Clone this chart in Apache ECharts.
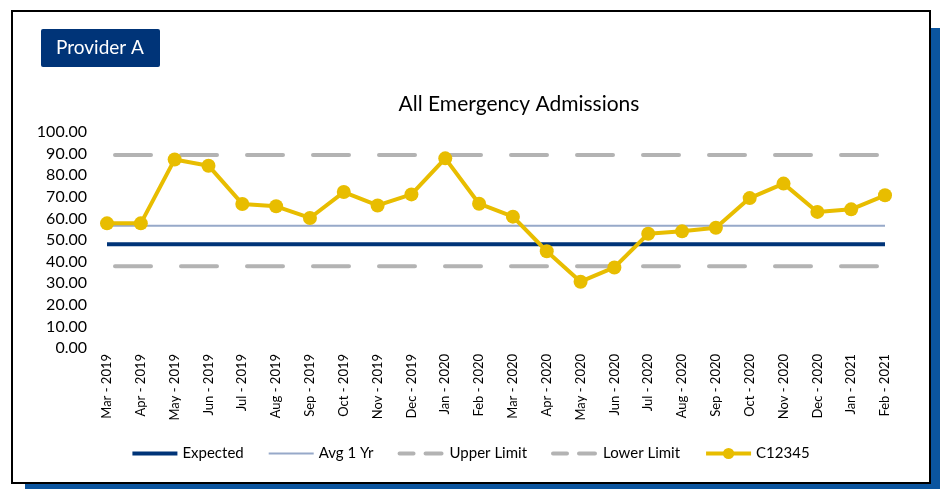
<!DOCTYPE html>
<html>
<head>
    <meta charset="utf-8" />
    <title>All Emergency Admissions</title>
    <script src="https://cdn.jsdelivr.net/npm/echarts@6/dist/echarts.min.js"></script>
    <style>
        html, body { margin: 0; padding: 0; background: #fff; }
    </style>
</head>
<body>
    <div id="main" style="width:940px;height:489px;"></div>
    <script type="text/javascript">
        // months on the x axis
        var months = ['Mar - 2019', 'Apr - 2019', 'May - 2019', 'Jun - 2019', 'Jul - 2019', 'Aug - 2019',
            'Sep - 2019', 'Oct - 2019', 'Nov - 2019', 'Dec - 2019', 'Jan - 2020', 'Feb - 2020',
            'Mar - 2020', 'Apr - 2020', 'May - 2020', 'Jun - 2020', 'Jul - 2020', 'Aug - 2020',
            'Sep - 2020', 'Oct - 2020', 'Nov - 2020', 'Dec - 2020', 'Jan - 2021', 'Feb - 2021'];
        var c12345 = [57.7, 57.7, 87.3, 84.4, 66.7, 65.6, 60.2, 72.2, 66.0, 71.1, 87.8, 66.8,
            60.8, 44.8, 30.7, 37.3, 52.9, 54.0, 55.7, 69.4, 76.1, 63.0, 64.2, 70.7];
        var expected = [48, 48, 48, 48, 48, 48, 48, 48, 48, 48, 48, 48,
            48, 48, 48, 48, 48, 48, 48, 48, 48, 48, 48, 48];
        var avg1Yr = [56.6, 56.6, 56.6, 56.6, 56.6, 56.6, 56.6, 56.6, 56.6, 56.6, 56.6, 56.6,
            56.6, 56.6, 56.6, 56.6, 56.6, 56.6, 56.6, 56.6, 56.6, 56.6, 56.6, 56.6];
        var upperLimit = [89.3, 89.3, 89.3, 89.3, 89.3, 89.3, 89.3, 89.3, 89.3, 89.3, 89.3, 89.3,
            89.3, 89.3, 89.3, 89.3, 89.3, 89.3, 89.3, 89.3, 89.3, 89.3, 89.3, 89.3];
        var lowerLimit = [37.8, 37.8, 37.8, 37.8, 37.8, 37.8, 37.8, 37.8, 37.8, 37.8, 37.8, 37.8,
            37.8, 37.8, 37.8, 37.8, 37.8, 37.8, 37.8, 37.8, 37.8, 37.8, 37.8, 37.8];

        var font = 'Lato, "Open Sans", sans-serif';
        var myChart = echarts.init(document.getElementById('main'));

        myChart.setOption({
            animation: false,
            textStyle: { fontFamily: font },
            title: {
                text: 'All Emergency Admissions',
                left: 514,
                textAlign: 'center',
                top: 89,
                textStyle: { fontFamily: font, fontSize: 21, fontWeight: 'normal', color: '#000' }
            },
            graphic: [
                // blue drop shadow behind the card
                { type: 'rect', z: -3, silent: true, shape: { x: 25, y: 28, width: 920, height: 470 }, style: { fill: '#0b559f' } },
                // white card
                { type: 'rect', z: -2, silent: true, shape: { x: 12, y: 11, width: 918, height: 472 }, style: { fill: '#fff', stroke: '#000', lineWidth: 2 } },
                // provider badge
                { type: 'rect', z: -1, silent: true, shape: { x: 41, y: 29, width: 119, height: 38, r: 2 }, style: { fill: '#003478' } },
                {
                    type: 'text', z: -1, silent: true, x: 100, y: 48,
                    style: { text: 'Provider A', fill: '#fff', font: '19px ' + font, align: 'center', verticalAlign: 'middle' }
                }
            ],
            legend: {
                top: 441,
                left: 'center',
                itemWidth: 45,
                itemHeight: 14,
                itemGap: 24,
                textStyle: { fontFamily: font, fontSize: 15, color: '#000' },
                data: [
                    { name: 'Expected', itemStyle: { opacity: 0 }, lineStyle: { width: 4 } },
                    { name: 'Avg 1 Yr', itemStyle: { opacity: 0 }, lineStyle: { width: 2 } },
                    { name: 'Upper Limit', itemStyle: { opacity: 0 }, lineStyle: { width: 4, type: [16, 12] } },
                    { name: 'Lower Limit', itemStyle: { opacity: 0 }, lineStyle: { width: 4, type: [16, 12] } },
                    { name: 'C12345', lineStyle: { width: 4 } }
                ]
            },
            grid: { left: 107, right: 55, top: 132, bottom: 141 },
            xAxis: {
                type: 'category',
                boundaryGap: false,
                data: months,
                axisLine: { show: false },
                axisTick: { show: false },
                axisLabel: { rotate: 90, interval: 0, margin: 6, fontSize: 13, color: '#000', fontFamily: font }
            },
            yAxis: {
                type: 'value',
                min: 0,
                max: 100,
                interval: 10,
                splitLine: { show: false },
                axisLine: { show: false },
                axisTick: { show: false },
                axisLabel: {
                    margin: 20, fontSize: 16, color: '#000', fontFamily: font,
                    formatter: function (v) { return v.toFixed(2); }
                }
            },
            series: [
                {
                    name: 'Expected', type: 'line', data: expected, symbol: 'none',
                    lineStyle: { color: '#003478', width: 4 }, itemStyle: { color: '#003478' }
                },
                {
                    name: 'Avg 1 Yr', type: 'line', data: avg1Yr, symbol: 'none',
                    lineStyle: { color: '#97a9c9', width: 2 }, itemStyle: { color: '#97a9c9' }
                },
                {
                    name: 'Upper Limit', type: 'line', data: upperLimit, symbol: 'none',
                    lineStyle: { color: '#b3b3b3', width: 4, type: [36, 30], dashOffset: 58, cap: 'round' },
                    itemStyle: { color: '#b3b3b3' }
                },
                {
                    name: 'Lower Limit', type: 'line', data: lowerLimit, symbol: 'none',
                    lineStyle: { color: '#b3b3b3', width: 4, type: [36, 30], dashOffset: 58, cap: 'round' },
                    itemStyle: { color: '#b3b3b3' }
                },
                {
                    name: 'C12345', type: 'line', data: c12345, symbol: 'circle', symbolSize: 14,
                    lineStyle: { color: '#e8bd00', width: 4 }, itemStyle: { color: '#e8bd00' }, z: 5
                }
            ]
        });
    </script>
</body>
</html>
